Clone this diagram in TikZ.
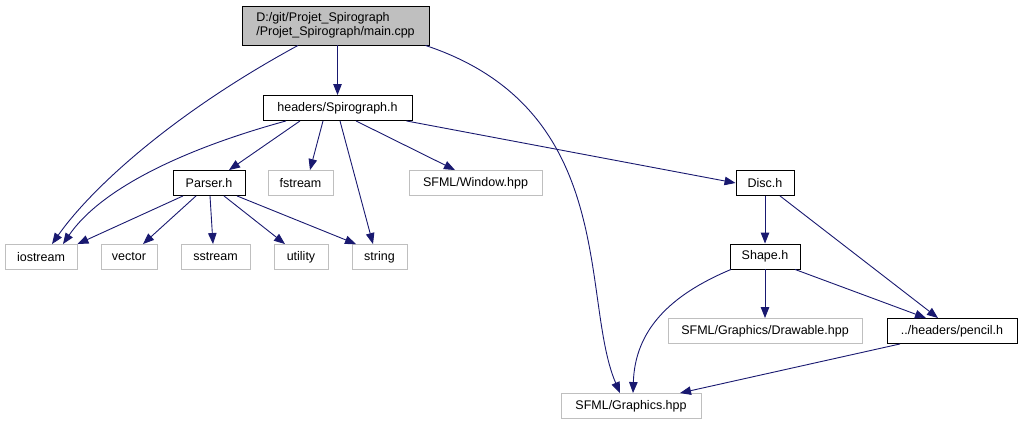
\documentclass[tikz,border=0pt]{standalone}
\usepackage{fontspec}
\setmainfont{Liberation Sans}
\usetikzlibrary{arrows.meta}
\definecolor{edgeblue}{HTML}{191970}
\definecolor{graybd}{HTML}{BFBFBF}
\begin{document}
\begin{tikzpicture}[x=1pt,y=-1pt,
  every node/.style={font=\fontsize{12.5}{14.5}\selectfont, inner sep=0pt, minimum height=25pt},
  hbox/.style={draw=black, line width=0.9pt, fill=white},
  sbox/.style={draw=graybd, line width=0.9pt, fill=white},
  mainbox/.style={draw=black, line width=0.9pt, fill=graybd, align=left},
  dep/.style={draw=edgeblue, line width=0.9pt, -{Triangle[length=11pt,width=8.5pt]}}]
\useasboundingbox (0,0) rectangle (1022,425);
\node[mainbox, minimum width=187pt, minimum height=39pt] (main) at (335.5,25.5) {D:/git/Projet\_Spirograph\\/Projet\_Spirograph/main.cpp};
\node[hbox, minimum width=149pt] (spiro) at (337.5,108) {headers/Spirograph.h};
\node[hbox, minimum width=72pt] (parser) at (209,183) {Parser.h};
\node[sbox, minimum width=65pt] (fstream) at (300.5,183) {fstream};
\node[sbox, minimum width=133pt] (window) at (475.5,183) {SFML/Window.hpp};
\node[hbox, minimum width=58pt] (disc) at (765,183) {Disc.h};
\node[sbox, minimum width=72pt] (iostream) at (41,257) {iostream};
\node[sbox, minimum width=56pt] (vector) at (129,257) {vector};
\node[sbox, minimum width=69pt] (sstream) at (215.5,257) {sstream};
\node[sbox, minimum width=54pt] (utility) at (301,257) {utility};
\node[sbox, minimum width=55pt] (string) at (379.5,257) {string};
\node[hbox, minimum width=70pt] (shape) at (765,256.5) {Shape.h};
\node[sbox, minimum width=194pt] (drawable) at (765,331) {SFML/Graphics/Drawable.hpp};
\node[hbox, minimum width=130pt] (pencil) at (952,331) {../headers/pencil.h};
\node[sbox, minimum width=140pt] (graphics) at (631,406) {SFML/Graphics.hpp};
% main
\draw[dep] (main.south -| spiro.north) -- (spiro.north);
\draw[dep] (main.south -| 298,0) .. controls (170,115) and (90,190) .. (iostream.north -| 52,0);
\draw[dep] (main.south east) ++(-4,0) .. controls (620,110) and (580,300) .. (graphics.north -| 620,0);
% spiro
\draw[dep] (spiro.south -| 286,0) .. controls (180,150) and (100,190) .. (iostream.north -| 63,0);
\draw[dep] (spiro.south -| 300,0) -- (parser.north -| 229,0);
\draw[dep] (spiro.south -| 323,0) -- (fstream.north -| 310,0);
\draw[dep] (spiro.south -| 340,0) -- (string.north -| 373,0);
\draw[dep] (spiro.south -| 356,0) -- (window.north -| 455,0);
\draw[dep] (spiro.south east) ++(-6,0) -- (disc.west);
% parser
\draw[dep] (parser.south -| 183,0) -- (iostream.north east);
\draw[dep] (parser.south -| 196,0) -- (vector.north -| 143,0);
\draw[dep] (parser.south -| 210,0) -- (sstream.north -| 213,0);
\draw[dep] (parser.south -| 224,0) -- (utility.north -| 285,0);
\draw[dep] (parser.south -| 237,0) -- (string.north -| 356,0);
% disc / shape
\draw[dep] (disc.south) -- (shape.north);
\draw[dep] (disc.south -| 780,0) -- (pencil.north -| 938,0);
\draw[dep] (shape.south) -- (drawable.north);
\draw[dep] (shape.south -| 795,0) -- (pencil.north -| 926,0);
\draw[dep] (shape.south -| 731,0) .. controls (670,295) and (635,330) .. (graphics.north -| 633,0);
\draw[dep] (pencil.south -| 900,0) -- (graphics.north -| 680,0);
\end{tikzpicture}
\end{document}
